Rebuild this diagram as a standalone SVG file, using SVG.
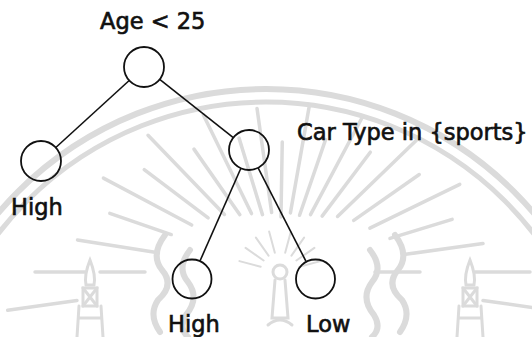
<svg xmlns="http://www.w3.org/2000/svg" width="532" height="337" viewBox="0 0 532 337">
  <style>
    .wm { fill: none; stroke: #dbdbdb; stroke-linecap: round; }
    .node { fill: none; stroke: #111; stroke-width: 1.8; }
    .edge { stroke: #111; stroke-width: 1.6; fill: none; }
    .lbl { font-family: "DejaVu Sans", "Liberation Sans", sans-serif; font-size: 22.5px; fill: #111; stroke: #111; stroke-width: 0.65; }
  </style>
  <rect width="532" height="337" fill="#fff"/>

  <!-- faint background emblem -->
  <g id="watermark">
    <circle class="wm" cx="266" cy="440" r="351" stroke-width="6"/>
    <circle class="wm" cx="266" cy="440" r="338" stroke-width="5"/>
    <g class="wm" stroke-width="3.5">
      <line x1="485" y1="272" x2="555" y2="272" transform="rotate(-188 280 272)"/>
      <line x1="415" y1="272" x2="460" y2="272" transform="rotate(-180 280 272)"/>
      <line x1="475" y1="272" x2="525" y2="272" transform="rotate(-180 280 272)"/>
      <line x1="405" y1="272" x2="485" y2="272" transform="rotate(-171 280 272)"/>
      <line x1="395" y1="272" x2="460" y2="272" transform="rotate(-161 280 272)"/>
      <line x1="380" y1="272" x2="480" y2="272" transform="rotate(-152 280 272)"/>
      <line x1="370" y1="272" x2="450" y2="272" transform="rotate(-143 280 272)"/>
      <line x1="360" y1="272" x2="470" y2="272" transform="rotate(-134 280 272)"/>
      <line x1="350" y1="272" x2="430" y2="272" transform="rotate(-125 280 272)"/>
      <line x1="345" y1="272" x2="455" y2="272" transform="rotate(-116 280 272)"/>
      <line x1="340" y1="272" x2="420" y2="272" transform="rotate(-107 280 272)"/>
      <line x1="340" y1="272" x2="445" y2="272" transform="rotate(-98 280 272)"/>
      <line x1="335" y1="272" x2="410" y2="272" transform="rotate(-89 280 272)"/>
      <line x1="340" y1="272" x2="450" y2="272" transform="rotate(-80 280 272)"/>
      <line x1="340" y1="272" x2="420" y2="272" transform="rotate(-71 280 272)"/>
      <line x1="345" y1="272" x2="455" y2="272" transform="rotate(-62 280 272)"/>
      <line x1="350" y1="272" x2="430" y2="272" transform="rotate(-53 280 272)"/>
      <line x1="360" y1="272" x2="470" y2="272" transform="rotate(-44 280 272)"/>
      <line x1="370" y1="272" x2="450" y2="272" transform="rotate(-35 280 272)"/>
      <line x1="380" y1="272" x2="480" y2="272" transform="rotate(-26 280 272)"/>
      <line x1="395" y1="272" x2="460" y2="272" transform="rotate(-17 280 272)"/>
      <line x1="405" y1="272" x2="485" y2="272" transform="rotate(-8 280 272)"/>
      <line x1="375" y1="272" x2="420" y2="272"/>
      <line x1="475" y1="272" x2="530" y2="272"/>
      <line x1="485" y1="272" x2="555" y2="272" transform="rotate(8 280 272)"/>
    </g>
    <g class="wm" stroke-width="2">
      <line x1="300" y1="272" x2="322" y2="272" transform="rotate(-15 280 272)"/>
      <line x1="300" y1="272" x2="322" y2="272" transform="rotate(-35 280 272)"/>
      <line x1="300" y1="272" x2="322" y2="272" transform="rotate(-55 280 272)"/>
      <line x1="300" y1="272" x2="322" y2="272" transform="rotate(-75 280 272)"/>
      <line x1="300" y1="272" x2="322" y2="272" transform="rotate(-105 280 272)"/>
      <line x1="300" y1="272" x2="322" y2="272" transform="rotate(-125 280 272)"/>
      <line x1="300" y1="272" x2="322" y2="272" transform="rotate(-145 280 272)"/>
      <line x1="300" y1="272" x2="322" y2="272" transform="rotate(-165 280 272)"/>
    </g>
    <!-- central pillar -->
    <g class="wm" stroke-width="3">
      <circle cx="280" cy="272" r="7"/>
      <path d="M275 280 L272 318 L288 318 L285 280"/>
      <path d="M268 325 Q280 315 292 325"/>
    </g>
    <!-- side towers -->
    <g class="wm" stroke-width="3">
      <path d="M90 260 Q84 275 86 285 L94 285 Q96 275 90 260 Z"/>
      <rect x="83" y="288" width="14" height="18"/>
      <path d="M83 288 L97 306 M97 288 L83 306"/>
      <path d="M79 306 L77 337 M101 306 L103 337 M80 318 L100 318"/>
      <path d="M470 260 Q464 275 466 285 L474 285 Q476 275 470 260 Z"/>
      <rect x="463" y="288" width="14" height="18"/>
      <path d="M463 288 L477 306 M477 288 L463 306"/>
      <path d="M459 306 L457 337 M481 306 L483 337 M460 318 L480 318"/>
    </g>
    <!-- flames -->
    <g class="wm" stroke-width="6">
      <path d="M165 235 Q150 255 162 270 Q175 285 158 300 Q148 315 160 332"/>
      <path d="M190 250 Q176 268 188 282 Q200 298 186 315 Q178 328 188 337"/>
      <path d="M395 235 Q410 255 398 270 Q385 285 402 300 Q412 315 400 332"/>
      <path d="M370 250 Q384 268 372 282 Q360 298 374 315 Q382 328 372 337"/>
    </g>
  </g>

  <!-- connectors -->
  <g id="edges">
    <line class="edge" x1="129.2" y1="80.5" x2="55.8" y2="147.5"/>
    <line class="edge" x1="159.7" y1="79.4" x2="233.3" y2="137.6"/>
    <line class="edge" x1="240.9" y1="168.3" x2="200.1" y2="260.7"/>
    <line class="edge" x1="258.1" y1="167.8" x2="305.9" y2="261.2"/>
  </g>

  <!-- nodes -->
  <g id="root">
    <circle class="node" cx="144" cy="67" r="20"/>
    <text class="lbl" x="100" y="29">Age &lt; 25</text>
  </g>
  <g id="leaf-left">
    <circle class="node" cx="41" cy="161" r="20"/>
    <text class="lbl" x="11" y="215">High</text>
  </g>
  <g id="cartype">
    <circle class="node" cx="249" cy="150" r="20"/>
    <text class="lbl" x="297" y="140">Car Type in {sports}</text>
  </g>
  <g id="leaf-high">
    <circle class="node" cx="192" cy="279" r="19.5"/>
    <text class="lbl" x="168" y="332">High</text>
  </g>
  <g id="leaf-low">
    <circle class="node" cx="315.5" cy="279" r="19.5"/>
    <text class="lbl" x="306" y="332">Low</text>
  </g>
</svg>
